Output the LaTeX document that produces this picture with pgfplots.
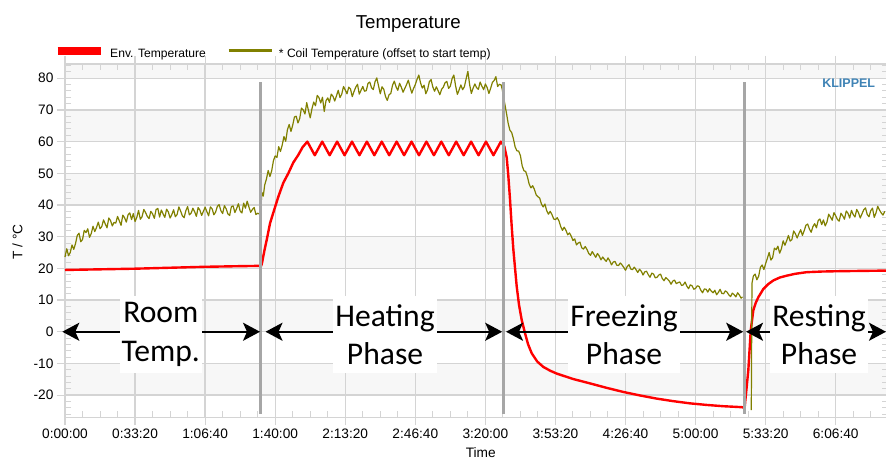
\documentclass[border=0pt]{standalone}
\usepackage{fontspec}
\setmainfont{Liberation Sans}
\newfontfamily\carlito{Carlito}
\usepackage{pgfplots}
\pgfplotsset{compat=1.18}
\usetikzlibrary{arrows.meta}
\definecolor{coil}{RGB}{128,128,0}
\definecolor{gridc}{RGB}{212,212,212}
\definecolor{band}{RGB}{247,247,247}
\definecolor{sepc}{RGB}{166,166,166}
\definecolor{klippel}{RGB}{63,131,181}
\begin{document}
\begin{tikzpicture}
\begin{axis}[
  at={(0,0)}, anchor=south west, scale only axis,
  width=823pt, height=353.3pt,
  xmin=0, xmax=23493, ymin=-27, ymax=84.5,
  set layers, clip=false,
  unbounded coords=jump,
  scaled x ticks=false,
  xtick={0,2000,...,22000},
  xticklabels={0:00:00,0:33:20,1:06:40,1:40:00,2:13:20,2:46:40,3:20:00,3:53:20,4:26:40,5:00:00,5:33:20,6:06:40},
  minor xtick={500,1000,...,23000},
  ytick={-20,-10,...,80},
  minor ytick={-26,-24,...,84},
  /pgf/number format/assume math mode=true,
  tick label style={font=\fontsize{13.7}{16}\selectfont},
  tick align=outside,
  major tick length=8pt,
  minor tick length=-6pt,
  every tick/.style={gridc, line width=1.2pt},
  minor tick style={gridc, line width=1pt},
  grid=major,
  major grid style={gridc, line width=1.3pt},
  axis line style={gridc, line width=1.3pt},
  every axis y label/.style={at={(axis description cs:-0.0577,0.497)}, rotate=90, anchor=center, font=\fontsize{13.7}{16}\selectfont},
  every axis x label/.style={at={(axis description cs:0.5052,-0.101)}, anchor=center, font=\fontsize{13.7}{16}\selectfont},
  ylabel={T / °C},
  xlabel={Time},
  legend columns=2,
  legend style={draw=none, fill=none, inner sep=0pt, outer sep=0pt,
    at={(axis description cs:-0.0137,1.0311)}, anchor=west,
    font=\fontsize{12.1}{14}\selectfont,
    nodes={inner sep=0pt},
    /tikz/every odd column/.append style={column sep=5.5pt},
    /tikz/every even column/.append style={column sep=21pt}},
]
\begin{pgfonlayer}{axis background}
\fill[band] (axis cs:0,80) rectangle (axis cs:23493,84.5);
\fill[band] (axis cs:0,60) rectangle (axis cs:23493,70);
\fill[band] (axis cs:0,40) rectangle (axis cs:23493,50);
\fill[band] (axis cs:0,20) rectangle (axis cs:23493,30);
\fill[band] (axis cs:0,0) rectangle (axis cs:23493,10);
\fill[band] (axis cs:0,-20) rectangle (axis cs:23493,-10);
\end{pgfonlayer}

\addplot[red, line width=2.4pt, line join=round,
  legend image code/.code={\draw[red, line width=8pt] (0pt,3.5pt) -- (43pt,3.5pt);}]
coordinates {
(0,19.5) (1000,19.7) (2000,19.9) (3000,20.2) (4000,20.5) (5000,20.7) (5600,20.8)
(5620,21.5) (5690,25.5) (5758,29.0) (5852,34.2) (5947,37.6) (6089,42.6) (6232,47.0) (6375,50.0) (6517,53.4) (6660,55.8) (6780,58.2) (6917,60.0)
(7130,55.7) (7342,60) (7555,55.7) (7767,60) (7980,55.7) (8192,60) (8405,55.7) (8617,60) (8830,55.7) (9042,60) (9255,55.7) (9467,60) (9680,55.7) (9892,60) (10105,55.7) (10317,60) (10530,55.7) (10742,60) (10955,55.7) (11167,60) (11380,55.7) (11592,60) (11805,55.7) (12017,60) (12230,55.7) (12442,60)
(12540,58.5) (12609,55.0) (12655,49.2) (12703,41.8) (12750,33.5) (12798,26.0) (12895,14.2) (12960,8.5) (13037,3.7) (13132,-0.5) (13220,-4.0) (13323,-6.8) (13480,-9.4) (13654,-11.1) (13850,-12.3) (14037,-13.2) (14500,-14.9) (14987,-16.3) (15460,-17.7) (15938,-19.0) (16410,-20.1) (16891,-21.1) (17360,-21.9) (17842,-22.6) (18320,-23.1) (18792,-23.5) (19318,-23.8) (19400,-24.0)
(19506,-12.1) (19575,0.5) (19649,6.8) (19720,9.2) (19792,10.9) (19935,13.5) (20070,15.0) (20221,16.2) (20400,17.1) (20603,17.7) (20850,18.3) (21174,18.8) (21600,19.0) (22030,19.1) (22700,19.2) (23436,19.3)
};
\addlegendentry{Env. Temperature}

\addplot[coil, line width=1.2pt, line join=round,
  legend image code/.code={\draw[coil, line width=3.5pt] (0pt,3.5pt) -- (43pt,3.5pt);}]
coordinates {
(0,23.6) (50,26.2) (100,24.0) (150,25.0) (200,27.4) (250,26.0) (300,27.8) (350,30.4) (400,31.1) (450,28.4) (500,29.1) (550,32.0) (600,31.3) (650,32.5) (700,29.8) (750,31.0) (800,33.3) (850,31.6) (900,32.9) (950,34.6) (1000,32.5) (1050,33.2) (1100,35.3) (1150,34.0) (1200,32.8) (1250,35.9) (1300,35.1) (1350,33.4) (1400,34.5) (1450,34.3) (1500,36.4) (1550,35.0) (1600,33.6) (1650,36.8) (1700,36.0) (1750,34.6) (1800,36.9) (1850,37.5) (1900,35.4) (1950,37.3) (2000,34.8) (2050,36.1) (2100,38.3) (2150,35.5) (2200,36.3) (2250,38.6) (2300,37.6) (2350,36.4) (2400,35.7) (2450,38.0) (2500,37.2) (2550,35.8) (2600,38.6) (2650,38.9) (2700,36.2) (2750,38.4) (2800,37.2) (2850,36.1) (2900,38.7) (2950,37.8) (3000,35.9) (3050,37.0) (3100,38.5) (3150,36.3) (3200,37.0) (3250,39.4) (3300,38.1) (3350,36.6) (3400,36.0) (3450,38.2) (3500,39.5) (3550,36.9) (3600,37.4) (3650,39.0) (3700,37.9) (3750,36.4) (3800,39.2) (3850,38.4) (3900,36.7) (3950,38.0) (4000,39.3) (4050,37.9) (4100,36.6) (4150,39.4) (4200,38.8) (4250,36.9) (4300,37.8) (4350,39.6) (4400,40.1) (4450,38.2) (4500,37.3) (4550,39.8) (4600,38.8) (4650,37.2) (4700,36.7) (4750,39.5) (4800,39.7) (4850,37.6) (4900,38.9) (4950,40.4) (5000,38.1) (5050,37.5) (5100,40.6) (5150,39.0) (5200,41.2) (5250,39.4) (5300,37.7) (5350,38.6) (5400,39.2) (5450,37.0) (5500,37.4) (5580,37.0)
(5620,44.0) (5660,42.8) (5700,46.3) (5750,48.2) (5800,50.9) (5850,49.0) (5900,50.8) (5950,54.0) (6000,55.5) (6050,55.0) (6100,58.4) (6150,56.9) (6200,58.9) (6250,61.6) (6300,60.1) (6350,63.8) (6400,65.4) (6450,63.2) (6500,65.2) (6550,67.8) (6600,68.0) (6650,65.9) (6700,67.3) (6750,70.6) (6800,70.0) (6850,68.7) (6900,72.3) (6950,69.8) (7000,67.5) (7050,70.4) (7100,72.5) (7150,71.3) (7200,74.6) (7250,73.9) (7300,72.2) (7350,74.0) (7400,69.5) (7450,72.9) (7500,73.8) (7550,72.4) (7600,75.0) (7650,74.3) (7700,72.8) (7750,74.5) (7800,76.2) (7850,73.9) (7900,75.0) (7950,77.4) (8000,76.3) (8050,75.1) (8100,77.2) (8150,76.6) (8200,74.2) (8250,75.8) (8300,77.2) (8350,78.1) (8400,75.0) (8450,76.2) (8500,77.4) (8550,75.9) (8600,76.1) (8650,78.4) (8700,78.8) (8750,77.0) (8800,76.4) (8850,78.9) (8900,80.1) (8950,77.6) (9000,75.1) (9050,77.3) (9100,76.5) (9150,74.2) (9200,73.0) (9250,74.8) (9300,75.2) (9350,77.8) (9400,79.1) (9450,77.3) (9500,76.2) (9550,78.4) (9600,77.2) (9650,75.6) (9700,76.8) (9750,78.0) (9800,79.4) (9850,77.2) (9900,75.3) (9950,76.8) (10000,78.0) (10050,79.7) (10100,81.0) (10150,78.5) (10200,76.9) (10250,77.8) (10300,75.1) (10350,76.4) (10400,78.9) (10450,79.6) (10500,77.2) (10550,75.9) (10600,77.3) (10650,76.1) (10700,74.8) (10750,76.5) (10800,77.2) (10850,78.6) (10900,79.0) (10950,76.8) (11000,77.5) (11050,79.9) (11100,81.0) (11150,77.6) (11200,74.9) (11250,76.3) (11300,77.9) (11350,76.4) (11400,77.3) (11450,79.8) (11500,82.2) (11550,78.0) (11600,75.2) (11650,76.9) (11700,78.2) (11750,77.0) (11800,76.5) (11850,78.8) (11900,77.5) (11950,76.4) (12000,78.2) (12050,77.1) (12100,75.2) (12150,76.8) (12200,78.7) (12250,79.3) (12300,80.5) (12350,77.4) (12400,78.1) (12450,77.9) (12480,76.5)
(12600,69.1) (12650,65.8) (12700,63.6) (12750,62.9) (12800,60.9) (12850,58.3) (12900,57.1) (12950,57.0) (13000,55.6) (13050,52.4) (13100,50.8) (13150,50.6) (13200,48.9) (13250,46.6) (13300,45.4) (13350,46.1) (13400,44.9) (13450,43.2) (13500,42.6) (13550,42.2) (13600,40.3) (13650,39.4) (13700,40.3) (13750,38.2) (13800,37.1) (13850,38.0) (13900,37.0) (13950,35.6) (14000,35.4) (14050,36.0) (14100,35.0) (14150,33.2) (14200,32.0) (14250,33.0) (14300,32.0) (14350,30.6) (14400,31.2) (14450,30.2) (14500,28.8) (14550,29.3) (14600,27.4) (14650,28.0) (14700,28.3) (14750,26.5) (14800,26.1) (14850,26.9) (14900,26.0) (14950,24.7) (15000,24.1) (15050,25.3) (15100,24.4) (15150,23.5) (15200,24.7) (15250,23.9) (15300,22.7) (15350,23.6) (15400,22.8) (15450,22.2) (15500,23.3) (15550,22.4) (15600,21.1) (15650,22.0) (15700,22.2) (15750,21.0) (15800,20.9) (15850,21.7) (15900,21.1) (15950,20.3) (16000,19.4) (16050,20.6) (16100,21.2) (16150,19.8) (16200,19.6) (16250,20.4) (16300,19.6) (16350,18.7) (16400,19.7) (16450,19.1) (16500,17.9) (16550,18.9) (16600,19.1) (16650,18.0) (16700,17.2) (16750,18.5) (16800,18.2) (16850,17.0) (16900,17.2) (16950,17.9) (17000,18.2) (17050,16.8) (17100,16.1) (17150,17.1) (17200,16.6) (17250,16.0) (17300,15.0) (17350,16.0) (17400,16.3) (17450,15.2) (17500,15.5) (17550,15.7) (17600,14.6) (17650,14.8) (17700,15.7) (17750,14.4) (17800,13.6) (17850,14.8) (17900,14.5) (17950,13.4) (18000,13.7) (18050,14.5) (18100,14.3) (18150,13.1) (18200,12.3) (18250,13.5) (18300,13.4) (18350,12.5) (18400,13.6) (18450,12.8) (18500,12.3) (18550,13.1) (18600,11.7) (18650,12.4) (18700,13.4) (18750,12.1) (18800,12.0) (18850,12.9) (18900,12.5) (18950,11.6) (19000,11.1) (19050,12.2) (19100,11.7) (19150,11.0) (19200,12.3) (19250,11.6) (19300,10.6) (19340,11.0)
(19450,nan)
(19590,-24.7) (19610,15.3)
(19650,17.6) (19700,18.2) (19750,16.4) (19800,17.5) (19850,20.3) (19900,21.1) (19950,19.6) (20000,21.5) (20050,23.2) (20100,25.0) (20150,22.6) (20200,23.4) (20250,26.4) (20300,25.9) (20350,27.0) (20400,24.8) (20450,26.2) (20500,28.7) (20550,27.3) (20600,28.7) (20650,30.4) (20700,28.6) (20750,29.1) (20800,31.8) (20850,30.9) (20900,29.6) (20950,31.0) (21000,32.2) (21050,30.4) (21100,31.9) (21150,33.6) (21200,34.0) (21250,32.4) (21300,31.4) (21350,33.2) (21400,34.1) (21450,32.8) (21500,35.1) (21550,35.6) (21600,33.8) (21650,35.3) (21700,33.4) (21750,34.6) (21800,37.1) (21850,36.2) (21900,35.2) (21950,37.6) (22000,36.6) (22050,35.4) (22100,34.9) (22150,37.4) (22200,36.6) (22250,35.5) (22300,38.1) (22350,37.4) (22400,35.9) (22450,38.3) (22500,37.0) (22550,36.2) (22600,38.6) (22650,37.6) (22700,35.9) (22750,37.2) (22800,38.5) (22850,39.1) (22900,37.0) (22950,36.3) (23000,38.2) (23050,39.0) (23100,36.1) (23150,37.5) (23200,39.6) (23250,38.4) (23300,37.5) (23350,36.8) (23400,38.0)
};
\addlegendentry{* Coil Temperature (offset to start temp)}

% phase separators
\addplot[forget plot, sepc, line width=3pt] coordinates {(5587,78.8) (5587,-25.8)};
\addplot[forget plot, sepc, line width=3pt] coordinates {(12512,78.8) (12512,-25.8)};
\addplot[forget plot, sepc, line width=3pt] coordinates {(19383,78.8) (19383,-25.8)};

% phase arrows
\begin{scope}[line width=2pt, >={Stealth[length=17pt,width=18pt,inset=4pt]}]
\draw[<->] (axis cs:-77,0) -- (axis cs:5567,0);
\draw[<->] (axis cs:5724,0) -- (axis cs:12480,0);
\draw[<->] (axis cs:12589,0) -- (axis cs:19360,0);
\draw[<->] (axis cs:19440,0) -- (axis cs:23436,0);
\end{scope}
\begin{scope}[every node/.style={fill=white, inner xsep=2pt, inner ysep=0pt, minimum height=77pt, align=center, font=\carlito\fontsize{31.6}{38.5}\selectfont}]
\node at (axis cs:2735,-0.88) {Room\\Temp.};
\node at (axis cs:9135,-0.88) {Heating\\Phase};
\node at (axis cs:15958,-0.88) {Freezing\\Phase};
\node at (axis cs:21524,-0.88) {Resting\\Phase};
\end{scope}
\end{axis}
\node[font=\fontsize{18.7}{22}\selectfont, anchor=base, inner sep=0pt] at (343.3pt,389pt) {Temperature};
\node[font=\bfseries\fontsize{12.5}{14}\selectfont, text=klippel, anchor=base, inner sep=0pt] at (783.7pt,330pt) {KLIPPEL};
\pgfresetboundingbox
\path (-65pt,-41.7pt) rectangle (821pt,417.3pt);
\end{tikzpicture}
\end{document}
